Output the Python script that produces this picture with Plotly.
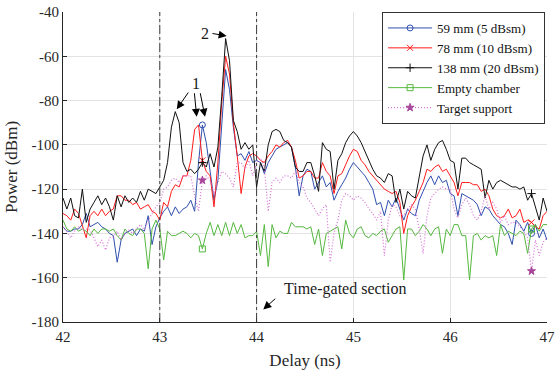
import numpy as np
import plotly.graph_objects as go

# ---------------- data ----------------
delay_ns = np.round(42 + 0.04 * np.arange(126), 2).tolist()

p_59mm = [-137,-139,-139,-138,-138,-136,-131,-137,-136,-135,-137,-138,-140,-141,-153,-143,-140,-139,-138,-141,-138,-139,-132,-145,-137,-133,
          -130,-128,-132,-128,-131,-129,-128,-125,-130,-108,-91,-99,-111,-125,-116,-89,-66,-75,-92,-105,-104,-107,-103,-108,-107,-108,-113,-108,
          -105,-102,-101,-100,-99,-101,-110,-123,-114,-111,-112,-120,-117,-114,-119,-117,-125,-121,-118,-115,-111,-108,-110,
          -112,-114,-117,-120,-127,-126,-132,-125,-128,-124,-129,-134,-129,-131,-132,-125,-121,-117,-114,-118,-114,-117,-116,-122,
          -123,-132,-122,-123,-124,-125,-127,-132,-128,-129,-132,-134,-136,-137,-140,-145,-134,-136,-139,-135,-140,-136,-142,-138,-143]

p_78mm = [-131,-132,-134,-129,-131,-137,-142,-132,-130,-132,-129,-132,-130,-129,-123,-123,-125,-125,-127,-126,-129,-128,-127,-130,-131,-134,
          -126,-128,-121,-118,-119,-114,-114,-107,-93,-91,-107,-112,-114,-128,-108,-81,-60,-68,-90,-105,-122,-110,-105,-104,-105,-107,
          -108,-105,-103,-100,-101,-99,-98,-101,-107,-115,-114,-112,-112,-115,-115,-108,-112,-114,-122,-114,-113,-109,-105,-102,-103,
          -107,-109,-112,-114,-116,-118,-120,-121,-122,-121,-126,-140,-132,-128,-125,-121,-117,-111,-112,-110,-109,-112,-111,-114,
          -117,-123,-117,-117,-117,-118,-118,-121,-120,-123,-129,-132,-133,-132,-129,-133,-132,-129,-135,-134,-135,-137,-138,-132,-130]

p_138mm = [-124,-129,-124,-132,-133,-120,-135,-129,-126,-123,-127,-124,-128,-134,-123,-128,-123,-126,-124,-126,-121,-125,-120,-121,-122,-119,
           -116,-108,-92,-85,-90,-108,-112,-111,-113,-111,-108,-110,-104,-110,-101,-78,-52,-62,-89,-94,-102,-99,-102,-100,-119,-108,-112,-100,
           -94,-93,-94,-98,-99,-101,-110,-112,-112,-108,-108,-114,-121,-99,-102,-103,-120,-107,-104,-99,-96,-94,-96,
           -99,-103,-107,-111,-114,-115,-117,-113,-114,-126,-120,-129,-121,-123,-124,-114,-105,-100,-107,-102,-99,-98,-102,-107,
           -108,-120,-106,-106,-108,-109,-110,-111,-124,-116,-120,-117,-116,-117,-118,-119,-119,-120,-119,-125,-122,-128,-134,-124,-130]

p_empty = [-134,-138,-139,-137,-139,-138,-139,-141,-138,-140,-138,-138,-139,-138,-141,-143,-138,-140,-141,-138,-138,-140,-156,-138,-134,-138,
           -152,-139,-141,-141,-140,-139,-140,-142,-140,-141,-147,-140,-135,-141,-136,-141,-135,-141,-135,-140,-136,-142,-141,-141,-139,
           -150,-136,-155,-136,-142,-139,-140,-140,-135,-137,-137,-137,-138,-137,-145,-138,-150,-140,-139,-138,-137,-147,-134,-140,-142,-138,
           -137,-141,-142,-140,-141,-139,-138,-144,-141,-138,-137,-161,-138,-138,-141,-139,-136,-138,-141,-138,-137,-149,-138,-141,
           -136,-136,-141,-141,-161,-141,-140,-143,-141,-142,-141,-150,-136,-141,-139,-140,-141,-139,-140,-149,-138,-136,-139,-136,-136]

p_support = [-137,-139,-142,-139,-137,-138.5,-138,-138.5,-142,-146,-143,-147.5,-142,-141.5,-139,-143,-140,-138.5,-140,-138,-136,-138.5,-134,-131,-128,-126,
             -120,-119,-116,-115,-117,-114,-114,-114,-123,-130,-116,-114,-116,-122,-117,-112,-113,-115,-119,-108,-108,-111,-107,-114,-108,-106,-110,
             -130,-117,-115,-117,-114,-114,-115,-112,-117,-119,-124,-126,-129,-132,-129,-127,-153,-140,-134,-125,-122,-123,-125,-123,
             -124,-126,-129,-131,-134,-130,-150,-134,-127,-128,-132,-132,-129,-127,-129,-138,-149,-132,-124,-122,-120,-119,-120,-120,
             -129,-133,-127,-124,-127,-132,-134,-130,-123,-129,-126,-129,-135,-132,-136,-135,-135,-137,-139,-142,-157,-143,-150,-144,-142]

series_names = ["59 mm (5 dBsm)", "78 mm (10 dBsm)", "138 mm (20 dBsm)", "Empty chamber", "Target support"]
marker_idx = [36, 121]
gate_lines = [43, 44]
x_ticks = [42, 43, 44, 45, 46, 47]
y_ticks = [-40, -60, -80, -100, -120, -140, -160, -180]
y_tick_text = ["-40", "-60", "-80", "-100", "-120", "-140", "-160", "-180"]

# ---------------- styles ----------------
FONT = "Liberation Serif"
styles = [
    dict(color="#2f4fae", dash="solid", symbol="circle-open", mcolor="#2f4fae", w=1),
    dict(color="#ff1c1c", dash="solid", symbol="x-thin-open", mcolor="#ff1c1c", w=1),
    dict(color="#111111", dash="solid", symbol="cross-thin-open", mcolor="#111111", w=1),
    dict(color="#55b83f", dash="solid", symbol="square-open", mcolor="#55b83f", w=1),
    dict(color="#d36fd3", dash="1px,2px", symbol="star", mcolor="#a8479c", w=1.2),
]
values = [p_59mm, p_78mm, p_138mm, p_empty, p_support]

fig = go.Figure()
for name, vals, st in zip(series_names, values, styles):
    fig.add_trace(go.Scatter(
        x=delay_ns, y=vals, name=name, mode="lines+markers",
        line=dict(color=st["color"], width=st["w"], dash=st["dash"]),
        marker=dict(symbol=st["symbol"], size=6, color=st["mcolor"],
                    line=dict(color=st["mcolor"], width=1)),
        selectedpoints=marker_idx,
        unselected=dict(marker=dict(opacity=0)),
        selected=dict(marker=dict(opacity=1)),
    ))

for g in gate_lines:
    fig.add_shape(type="line", xref="x", yref="paper", x0=g, x1=g, y0=0, y1=1,
                  line=dict(color="#3a3a3a", width=1, dash="dashdot"))

arrow_kw = dict(showarrow=True, arrowhead=2, arrowsize=1.6, arrowwidth=1,
                arrowcolor="black", axref="x", ayref="y", text="")
annotations = [
    dict(x=43.175, y=-83.9, ax=43.305, ay=-75.7, **arrow_kw),
    dict(x=43.381, y=-87.3, ax=43.356, ay=-76.0, **arrow_kw),
    dict(x=43.467, y=-87.3, ax=43.415, ay=-76.0, **arrow_kw),
    dict(x=43.691, y=-50.8, ax=43.529, ay=-49.6, **arrow_kw),
    dict(x=44.069, y=-174.3, ax=44.208, ay=-168.9, **arrow_kw),
    dict(x=43.371, y=-72.1, text="1", showarrow=False, font=dict(family=FONT, size=16, color="#1a1a1a")),
    dict(x=43.467, y=-49.6, text="2", showarrow=False, font=dict(family=FONT, size=16, color="#1a1a1a")),
    dict(x=44.259, y=-165.2, text="Time-gated section", showarrow=False, xanchor="left",
         font=dict(family=FONT, size=16, color="#1a1a1a")),
]
for a in annotations:
    fig.add_annotation(**a)

axis_common = dict(showgrid=True, gridcolor="#e3e3e3", gridwidth=1, zeroline=False,
                   showline=True, linecolor="#262626", linewidth=1, ticks="inside",
                   ticklen=4, tickcolor="#262626", mirror=False, automargin=False,
                   ticklabeloverflow="allow",
                   tickfont=dict(family=FONT, size=15, color="#262626"))

fig.update_layout(
    width=555, height=374,
    margin=dict(l=63, r=8, t=12, b=52),
    paper_bgcolor="white", plot_bgcolor="white",
    xaxis=dict(range=[42, 47], tickvals=x_ticks, ticklabelstandoff=1,
               title=dict(text="Delay (ns)", font=dict(family=FONT, size=17, color="#262626"), standoff=10),
               **axis_common),
    yaxis=dict(range=[-180, -40], tickvals=y_ticks, ticktext=y_tick_text, ticklabelstandoff=0,
               title=dict(text="Power (dBm)", font=dict(family=FONT, size=17, color="#262626"), standoff=9),
               **axis_common),
    legend=dict(x=0.996, y=1, xanchor="right", yanchor="top", bgcolor="white",
                bordercolor="#333333", borderwidth=1, font=dict(family=FONT, size=13, color="#111111"),
                itemwidth=44, tracegroupgap=0),
    showlegend=True,
)

# remove the default 8 px page margin so the figure fills the window exactly
fig.write_html("out.html", config={"displayModeBar": False},
               post_script="document.body.style.margin='0';")
